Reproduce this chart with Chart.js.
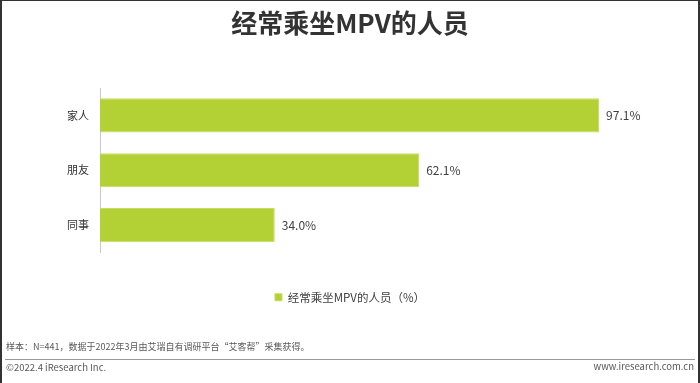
<!DOCTYPE html>
<html>
<head>
<meta charset="utf-8">
<script src="https://cdn.jsdelivr.net/npm/chart.js@4.4.0/dist/chart.umd.min.js"></script>
<style>
  html, body { margin: 0; padding: 0; background: #fff; }
  body { width: 700px; height: 383px; position: relative; overflow: hidden;
         font-family: "Noto Sans CJK SC", "Noto Sans", sans-serif; }
  #wrap { position: absolute; left: 0; top: 0; width: 700px; height: 383px; }
  #frame { position: absolute; left: 0; top: 0; width: 696px; height: 383px;
           border-left: 2px solid #333; border-right: 2px solid #333; border-top: 1px solid #333;
           box-sizing: content-box; pointer-events: none; }
  .note { position: absolute; color: #595959; white-space: nowrap; line-height: 1; }
  #sep { position: absolute; left: 5px; top: 359px; width: 690px; height: 1px; background: #9a9a9a; }
</style>
</head>
<body>
<div id="wrap"><canvas id="c" width="700" height="383"></canvas></div>
<div class="note" style="left:6px; top:342px; font-size:9px;">样本：N=441，数据于2022年3月由艾瑞自有调研平台“艾客帮”采集获得。</div>
<div id="sep"></div>
<div class="note" style="left:6px; top:363px; font-size:9.5px;">©2022.4 iResearch Inc.</div>
<div class="note" style="right:6px; top:362px; font-size:9.5px;">www.iresearch.com.cn</div>
<div id="frame"></div>
<script>
const categories = ["家人", "朋友", "同事"];
const seriesName = "经常乘坐MPV的人员（%）";
const values = [97.1, 62.1, 34.0];
const chartTitle = "经常乘坐MPV的人员";

const FONT = '"Noto Sans CJK SC", "Noto Sans", sans-serif';

const valueLabels = {
  id: 'valueLabels',
  afterDatasetsDraw(chart) {
    const ctx = chart.ctx;
    const meta = chart.getDatasetMeta(0);
    ctx.save();
    ctx.font = '12px ' + FONT;
    ctx.fillStyle = '#404040';
    ctx.textAlign = 'left';
    ctx.textBaseline = 'middle';
    meta.data.forEach((bar, i) => {
      ctx.fillText(values[i].toFixed(1) + '%', bar.x + 7, bar.y);
    });
    ctx.restore();
  }
};

new Chart(document.getElementById('c'), {
  type: 'bar',
  data: {
    labels: categories,
    datasets: [{
      label: seriesName,
      data: values,
      backgroundColor: '#b3d135',
      borderColor: '#c4dd62',
      borderWidth: 1,
      borderSkipped: 'left',
      barPercentage: 0.622,
      categoryPercentage: 1.0
    }]
  },
  options: {
    indexAxis: 'y',
    responsive: false,
    animation: false,
    layout: { padding: { left: 43, right: 43, top: 0, bottom: 70 } },
    scales: {
      x: { display: false, min: 0, max: 100 },
      y: {
        position: 'left',
        afterFit(scale) { scale.width = 57; },
        grid: { display: false, drawTicks: false },
        border: { display: true, color: '#c8c8c8', width: 1 },
        ticks: {
          padding: 11,
          color: '#333',
          font: { size: 11, family: FONT }
        }
      },
      yRight: {
        type: 'category',
        position: 'right',
        afterFit(scale) { scale.width = 43; },
        grid: { display: false, drawTicks: false },
        border: { display: false },
        ticks: { display: false }
      }
    },
    plugins: {
      title: {
        display: true,
        text: chartTitle,
        color: '#333',
        font: { size: 26, weight: 'bold', family: FONT, lineHeight: 1.2 },
        padding: { top: 8, bottom: 48.8 }
      },
      legend: {
        display: true,
        position: 'bottom',
        labels: {
          boxWidth: 7,
          boxHeight: 7,
          padding: 39,
          color: '#404040',
          font: { size: 11.5, family: FONT }
        }
      },
      tooltip: { enabled: false }
    }
  },
  plugins: [valueLabels]
});
</script>
</body>
</html>
